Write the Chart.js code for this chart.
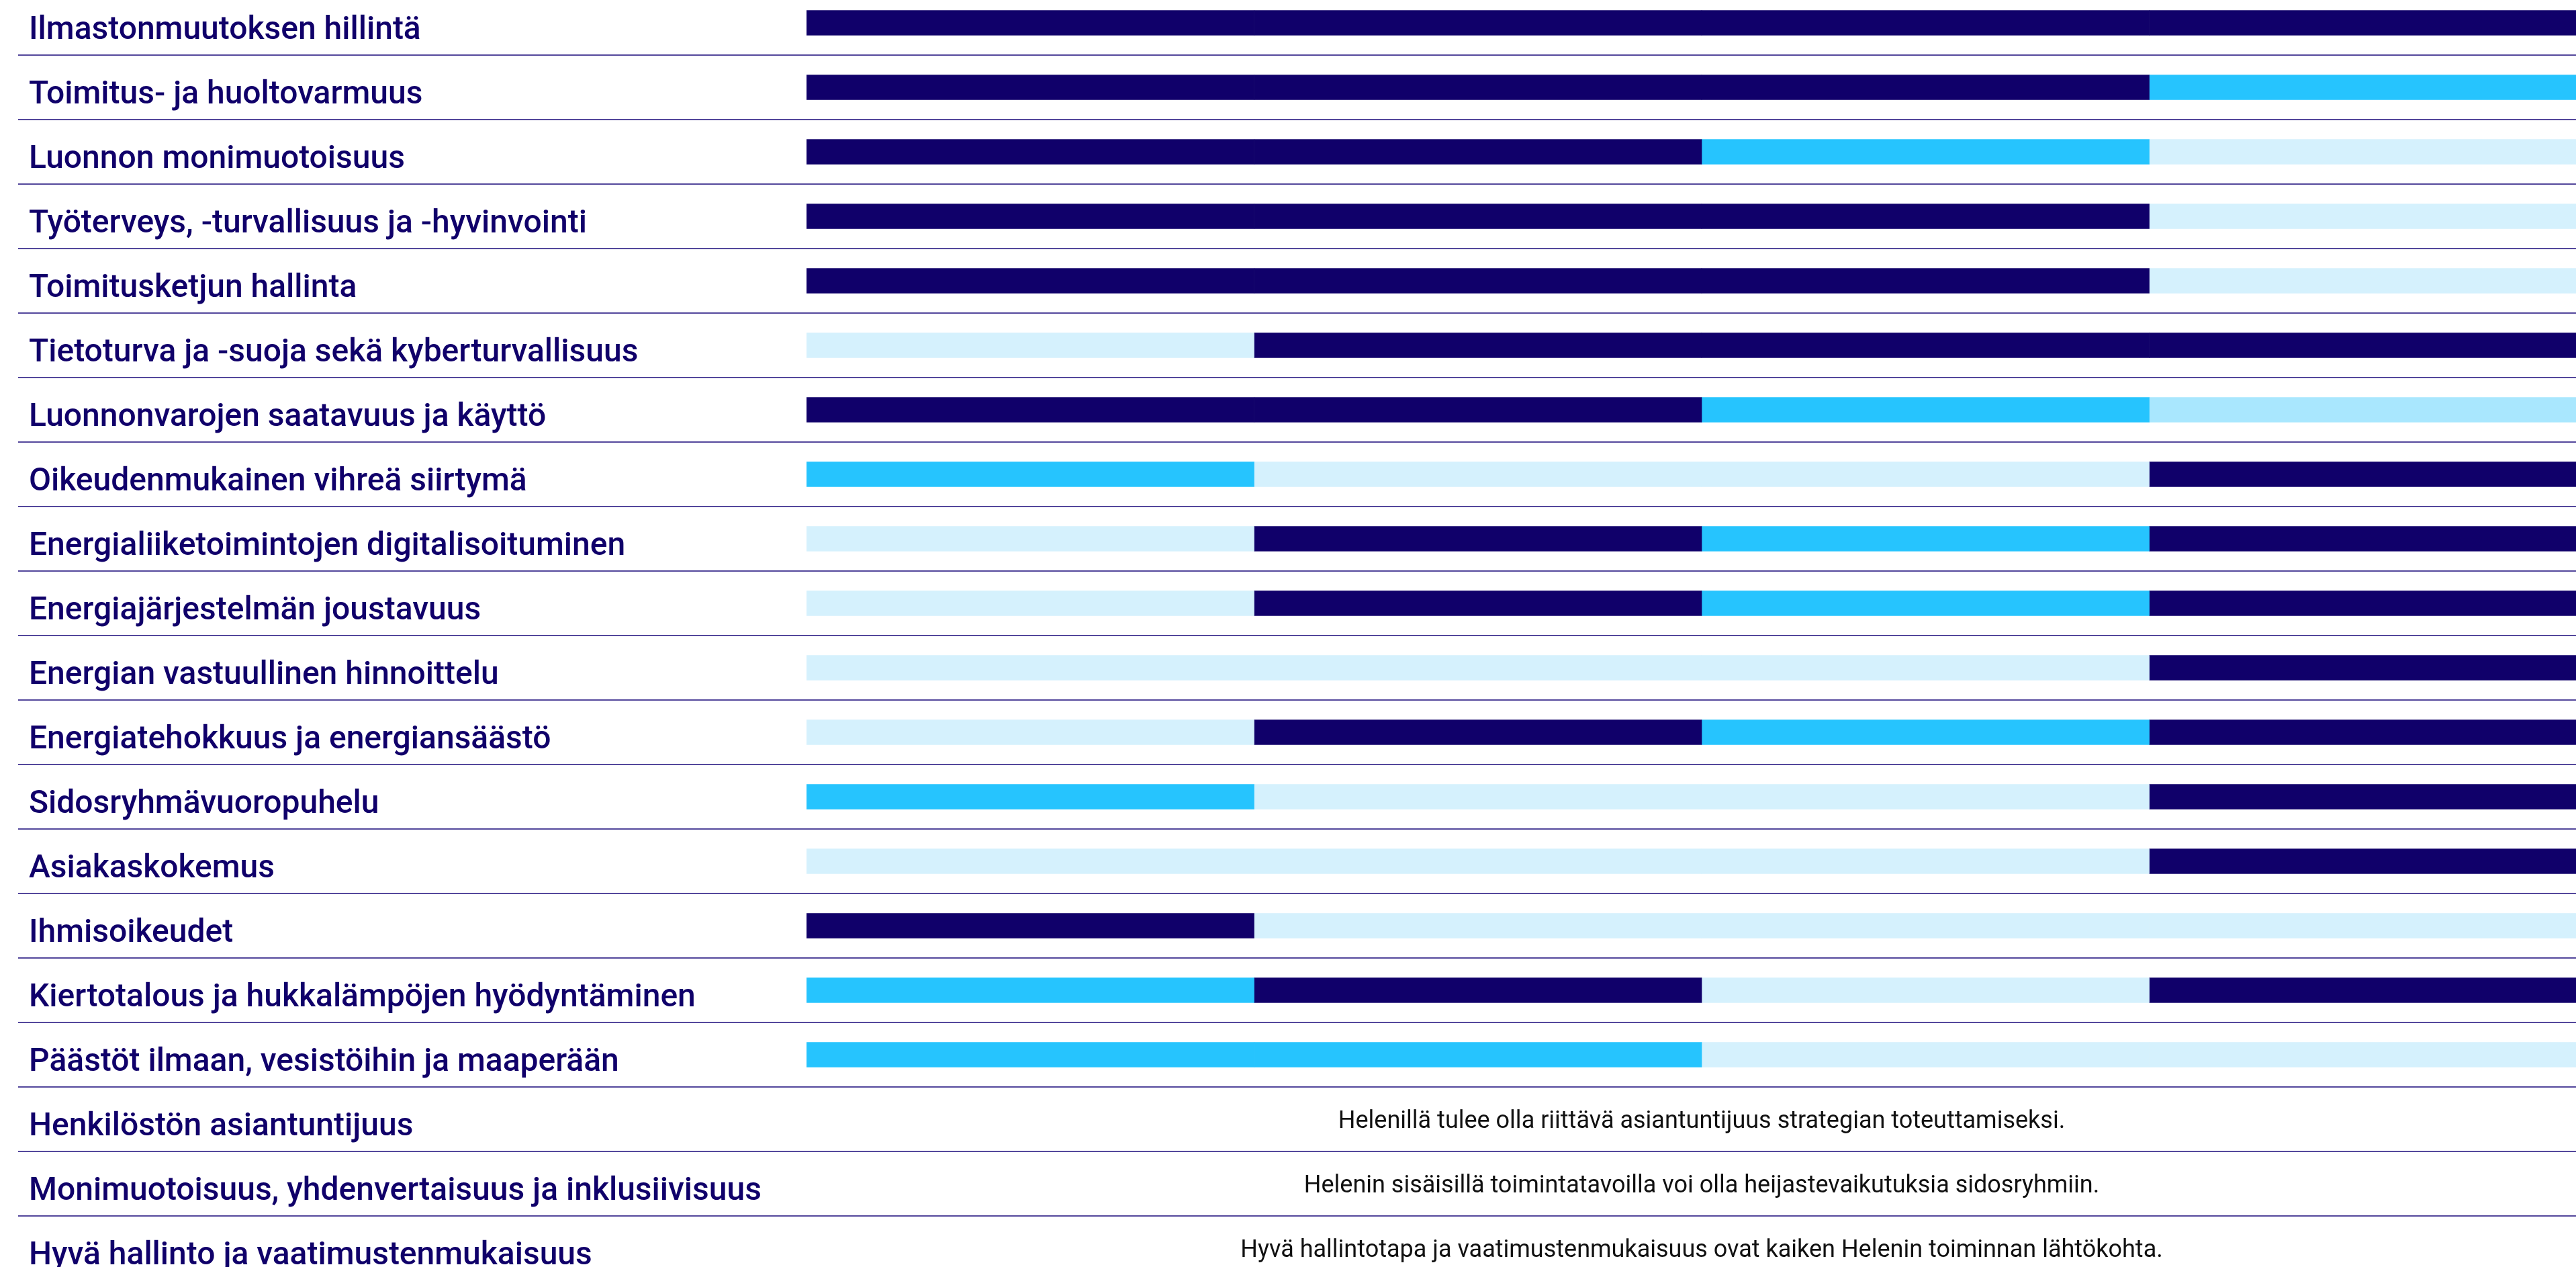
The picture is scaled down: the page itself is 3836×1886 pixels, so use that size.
<!DOCTYPE html>
<html lang="fi">
<head>
<meta charset="utf-8">
<title>Olennaiset aiheet</title>
<script src="https://cdn.jsdelivr.net/npm/chart.js@4"></script>
<style>
    html, body {
        margin: 0;
        padding: 0;
        background: #ffffff;
        overflow: hidden;
        width: 3836px;
        height: 1886px;
    }
    #wrap {
        position: absolute;
        left: 0;
        top: -14px;
        width: 3867px;
        height: 1920px;
    }
</style>
</head>
<body>
<div id="wrap"><canvas id="topicChart"></canvas></div>
<script>
const categories = [
    "Ilmastonmuutoksen hillintä",
    "Toimitus- ja huoltovarmuus",
    "Luonnon monimuotoisuus",
    "Työterveys, -turvallisuus ja -hyvinvointi",
    "Toimitusketjun hallinta",
    "Tietoturva ja -suoja sekä kyberturvallisuus",
    "Luonnonvarojen saatavuus ja käyttö",
    "Oikeudenmukainen vihreä siirtymä",
    "Energialiiketoimintojen digitalisoituminen",
    "Energiajärjestelmän joustavuus",
    "Energian vastuullinen hinnoittelu",
    "Energiatehokkuus ja energiansäästö",
    "Sidosryhmävuoropuhelu",
    "Asiakaskokemus",
    "Ihmisoikeudet",
    "Kiertotalous ja hukkalämpöjen hyödyntäminen",
    "Päästöt ilmaan, vesistöihin ja maaperään",
    "Henkilöstön asiantuntijuus",
    "Monimuotoisuus, yhdenvertaisuus ja inklusiivisuus",
    "Hyvä hallinto ja vaatimustenmukaisuus"
];

// level per column: 3 = dark, 2 = cyan, 1 = light blue, 0 = pale, null = no bar
const column1 = [3, 3, 3, 3, 3, 0, 3, 2, 0, 0, 0, 0, 2, 0, 3, 2, 2, null, null, null];
const column2 = [3, 3, 3, 3, 3, 3, 3, 0, 3, 3, 0, 3, 0, 0, 0, 3, 2, null, null, null];
const column3 = [3, 3, 2, 3, 3, 3, 2, 0, 2, 2, 0, 2, 0, 0, 0, 0, 0, null, null, null];
const column4 = [3, 2, 0, 0, 0, 3, 1, 3, 3, 3, 3, 3, 3, 3, 0, 3, 0, null, null, null];

const notes = [
    null, null, null, null, null, null, null, null, null, null,
    null, null, null, null, null, null, null,
    "Helenillä tulee olla riittävä asiantuntijuus strategian toteuttamiseksi.",
    "Helenin sisäisillä toimintatavoilla voi olla heijastevaikutuksia sidosryhmiin.",
    "Hyvä hallintotapa ja vaatimustenmukaisuus ovat kaiken Helenin toiminnan lähtökohta."
];

const levelColors = ["#d5f1fd", "#a9e7fe", "#26c4fe", "#10006a"];
const navy = "#10006a";
const lineColor = "#54489c";

const makeDataset = (levels) => ({
    data: levels.map((l) => (l === null ? null : 1)),
    backgroundColor: levels.map((l) => (l === null ? "transparent" : levelColors[l])),
    borderWidth: 0,
    barThickness: 37
});

const notesPlugin = {
    id: "rowNotes",
    afterDatasetsDraw(chart) {
        const { ctx, scales } = chart;
        ctx.save();
        ctx.font = "400 36px Roboto";
        ctx.fillStyle = "#111111";
        ctx.textAlign = "center";
        ctx.textBaseline = "middle";
        notes.forEach((note, i) => {
            if (!note) {
                return;
            }
            ctx.fillText(note, scales.x.getPixelForValue(2), scales.y.getPixelForValue(i) + 4);
        });
        ctx.restore();
    }
};

new Chart(document.getElementById("topicChart"), {
    type: "bar",
    data: {
        labels: categories,
        datasets: [column1, column2, column3, column4].map(makeDataset)
    },
    options: {
        indexAxis: "y",
        responsive: true,
        maintainAspectRatio: false,
        animation: false,
        layout: { padding: { left: 43, right: 0, top: 0, bottom: 0 } },
        plugins: {
            legend: { display: false },
            tooltip: { enabled: false }
        },
        scales: {
            x: {
                stacked: true,
                min: 0,
                max: 4,
                display: false,
                grid: { display: false }
            },
            y: {
                stacked: true,
                border: { display: false },
                grid: {
                    color: lineColor,
                    lineWidth: 2,
                    tickLength: 1174,
                    tickColor: lineColor
                },
                ticks: {
                    autoSkip: false,
                    crossAlign: "far",
                    labelOffset: 12,
                    color: navy,
                    font: { family: "Roboto", size: 48, weight: "500" }
                },
                afterFit(scale) {
                    scale.width = 1158;
                    scale.paddingTop = 0;
                    scale.paddingBottom = 0;
                }
            }
        }
    },
    plugins: [notesPlugin]
});
</script>
</body>
</html>
